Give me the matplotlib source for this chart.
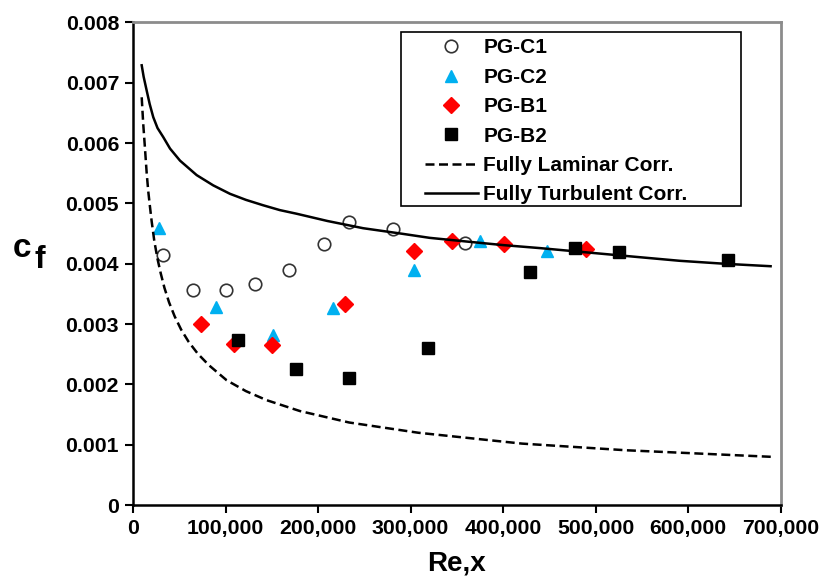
import numpy as np
import matplotlib.pyplot as plt
from matplotlib.patches import Rectangle
from matplotlib.ticker import FuncFormatter

plt.rcParams['font.family'] = ['Liberation Sans', 'DejaVu Sans']
plt.rcParams['font.weight'] = 'bold'

# Donnees
c1_re = [32700, 65100, 100400, 132100, 168100, 206300, 233300, 280500, 358500]
c1_cf = [0.00414, 0.00356, 0.00356, 0.00367, 0.00389, 0.00433, 0.00470, 0.00457, 0.00435]

c2_re = [28400, 89300, 151500, 215700, 303800, 374700, 447400]
c2_cf = [0.00459, 0.00328, 0.00282, 0.00327, 0.00390, 0.00437, 0.00421]

b1_re = [73100, 109100, 150400, 228900, 303800, 345200, 400600, 490000]
b1_cf = [0.00300, 0.00267, 0.00266, 0.00334, 0.00421, 0.00437, 0.00433, 0.00424]

b2_re = [113100, 175700, 233600, 318900, 429500, 478100, 525200, 642900]
b2_cf = [0.00273, 0.00226, 0.00211, 0.00261, 0.00386, 0.00426, 0.00419, 0.00407]

lam_re = [9400, 11000, 13000, 14800, 16500, 18300, 20200, 23000, 26500, 30000, 34000,
          39000, 45000, 52000, 60000, 70000, 82000, 101200, 122000, 144400, 180300,
          233500, 308300, 420400, 532500, 691300]
lam_cf = [0.00676, 0.00633, 0.00590, 0.00550, 0.00520, 0.00495, 0.00470, 0.00438,
          0.00408, 0.00384, 0.00360, 0.00336, 0.00313, 0.00291, 0.00271, 0.00251,
          0.00232, 0.00207, 0.00189, 0.00174, 0.00156, 0.00137, 0.00120, 0.00102,
          0.00091, 0.00080]

tur_re = [9400, 11500, 14800, 18000, 21900, 26500, 32700, 40000, 50800, 68800,
          86700, 104800, 122000, 140700, 158700, 176800, 210000, 248700, 290000,
          320700, 360000, 400000, 440000, 482700, 540000, 590700, 640000, 689000]
tur_cf = [0.00729, 0.00710, 0.00687, 0.00665, 0.00643, 0.00625, 0.00610, 0.00591,
          0.00571, 0.00547, 0.00530, 0.00516, 0.00506, 0.00497, 0.00489, 0.00483,
          0.00471, 0.00459, 0.00450, 0.00443, 0.00437, 0.00431, 0.00426, 0.00420,
          0.00412, 0.00405, 0.00400, 0.00396]

fig = plt.figure(figsize=(8.21, 5.76), dpi=100)
a = fig.add_axes([0.162, 0.123, 0.789, 0.838])

a.plot(c1_re, c1_cf, "o", ms=9, mfc="white", mec="#333333", mew=1.2, label="PG-C1")
a.plot(c2_re, c2_cf, "^", ms=9, color="#00B0F0", label="PG-C2")
a.plot(b1_re, b1_cf, "D", ms=8, color="red", label="PG-B1")
a.plot(b2_re, b2_cf, "s", ms=9, color="black", label="PG-B2")
a.plot(lam_re, lam_cf, "--", color="black", lw=1.8, dashes=(3.6, 1.8), label="Fully Laminar Corr.")
a.plot(tur_re, tur_cf, "-", color="black", lw=1.8, label="Fully Turbulent Corr.")

a.set_xlim(0, 700000)
a.set_ylim(0, 0.008)
a.set_xticks(np.arange(0, 700001, 100000))
a.set_yticks(np.arange(0, 0.0081, 0.001))
a.xaxis.set_major_formatter(FuncFormatter(lambda v, p: "{:,.0f}".format(v)))
a.yaxis.set_major_formatter(FuncFormatter(lambda v, p: "0" if v == 0 else "{:.3f}".format(v)))
a.tick_params(labelsize=15.3, length=6, width=1.5, direction="out", pad=4)

for s in ["left", "bottom"]:
    a.spines[s].set_color("black")
    a.spines[s].set_linewidth(1.8)
for s in ["top", "right"]:
    a.spines[s].set_color("#8c8c8c")
    a.spines[s].set_linewidth(2)

a.set_xlabel("Re,x", fontsize=20, fontweight="bold", labelpad=9)

# label Cf (c + f abaissé)
fig.text(0.0158, 0.5538, "c", fontsize=24, fontweight="bold", va="baseline")
fig.text(0.0426, 0.5347, "f", fontsize=23, fontweight="bold", va="baseline")

# cadre de la legende
a.add_patch(Rectangle((0.4136, 0.6197), 0.5247, 0.3606, transform=a.transAxes,
                      fill=True, facecolor="white", edgecolor="black", lw=1.2, zorder=4))
leg = a.legend(loc="upper left", bbox_to_anchor=(0.4506, 0.967), fontsize=15,
               frameon=False, handlelength=2.55, labelspacing=0.5, borderpad=0,
               handletextpad=0.25, borderaxespad=0)
leg.set_zorder(5)

plt.savefig("out.png", dpi=100)
